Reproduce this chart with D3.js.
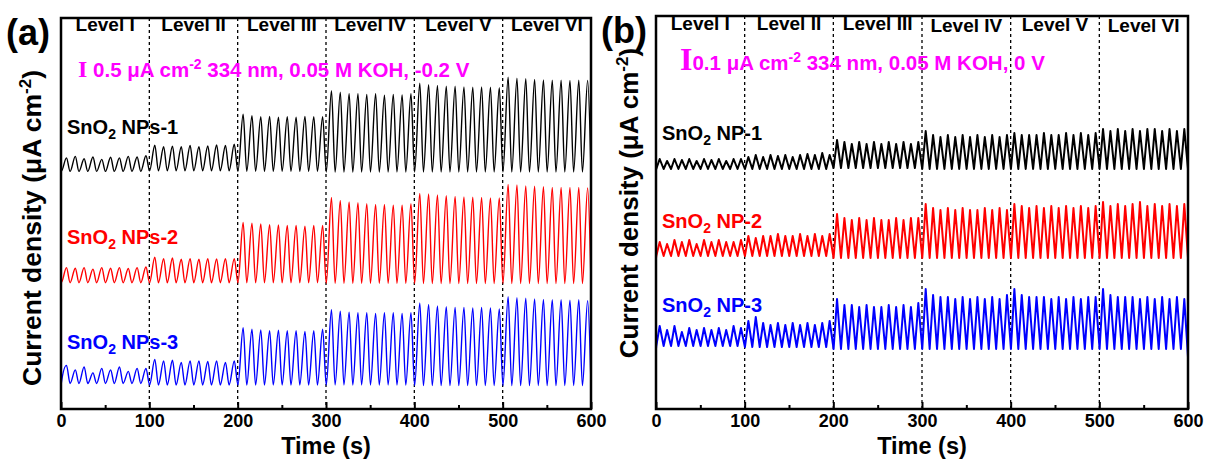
<!DOCTYPE html>
<html>
<head>
<meta charset="utf-8">
<script src="https://cdn.jsdelivr.net/npm/d3@7"></script>
<style>
  body { margin: 0; background: #fff; }
  text { font-family: "Liberation Sans", Arial, sans-serif; font-weight: bold; }
</style>
</head>
<body>
<script>
var width = 1211,
    height = 459;

// shared x data
var timeTicks = [0, 100, 200, 300, 400, 500, 600];
var minorTicks = [50, 150, 250, 350, 450, 550];
var levelEdges = [100, 200, 300, 400, 500];
var levelNames = ["Level I", "Level II", "Level III", "Level IV", "Level V", "Level VI"];

// panel (a): peak photocurrent of each light cycle, per level (µA cm-2 above dark baseline)
var aPeaks1 = [
  [0.45, 0.5, 0.42, 0.48, 0.4, 0.47, 0.45, 0.5, 0.48, 0.52],
  [0.85, 0.8, 0.82, 0.8, 0.84, 0.8, 0.83, 0.86, 0.84, 0.88],
  [1.9, 1.85, 1.82, 1.83, 1.8, 1.82, 1.8, 1.83, 1.82, 1.82],
  [2.7, 2.65, 2.6, 2.6, 2.58, 2.6, 2.55, 2.58, 2.56, 2.6],
  [2.95, 2.9, 2.88, 2.85, 2.85, 2.83, 2.82, 2.83, 2.82, 2.8],
  [3.15, 3.12, 3.1, 3.08, 3.06, 3.05, 3.05, 3.04, 3.05, 3.04]
];
var aPeaks2 = [
  [0.5, 0.48, 0.5, 0.45, 0.5, 0.48, 0.5, 0.47, 0.5, 0.52],
  [0.85, 0.8, 0.82, 0.78, 0.8, 0.78, 0.8, 0.79, 0.8, 0.8],
  [2.0, 1.98, 1.95, 1.93, 1.92, 1.9, 1.9, 1.88, 1.9, 1.9],
  [2.85, 2.75, 2.7, 2.68, 2.65, 2.62, 2.62, 2.6, 2.6, 2.65],
  [3.0, 2.98, 2.95, 2.92, 2.9, 2.88, 2.87, 2.86, 2.85, 2.85],
  [3.3, 3.28, 3.25, 3.24, 3.22, 3.2, 3.2, 3.2, 3.2, 3.18]
];
var aPeaks3 = [
  [0.6, 0.45, 0.55, 0.35, 0.5, 0.45, 0.55, 0.4, 0.5, 0.5],
  [0.85, 0.8, 0.82, 0.75, 0.8, 0.8, 0.78, 0.8, 0.75, 0.8],
  [1.9, 1.85, 1.83, 1.8, 1.82, 1.8, 1.8, 1.78, 1.8, 1.85],
  [2.5, 2.45, 2.42, 2.4, 2.4, 2.38, 2.4, 2.4, 2.38, 2.4],
  [2.75, 2.7, 2.65, 2.62, 2.6, 2.6, 2.58, 2.6, 2.58, 2.55],
  [2.95, 2.92, 2.9, 2.88, 2.86, 2.85, 2.85, 2.84, 2.85, 2.82]
];
// dark current per level, relative to the baseline of each trace
var aTroughs1 = [0, 0.02, 0, -0.02, -0.02, -0.02];
var aTroughs2 = [0, 0, 0, -0.02, -0.03, -0.03];
var aTroughs3 = [0.05, 0, 0, 0, -0.02, -0.02];
var aOffsets = [7.9, 4.2, 0.8];       // vertical stacking of the traces
var aStart = [0, 0, -0.75];           // value at t = 0
var aEnd = [0, 0, 0];                 // value at t = 600
var aNames = [" NPs-1", " NPs-2", " NPs-3"];

// panel (b)
var bPeaks1 = [
  [0.05, 0.04, 0.05, 0.045, 0.05, 0.04, 0.05, 0.045, 0.05, 0.04, 0.05, 0.05],
  [0.06, 0.07, 0.06, 0.07, 0.065, 0.07, 0.06, 0.07, 0.075, 0.07, 0.08, 0.07],
  [0.14, 0.13, 0.12, 0.13, 0.12, 0.13, 0.12, 0.13, 0.12, 0.13, 0.12, 0.13],
  [0.19, 0.17, 0.16, 0.17, 0.16, 0.17, 0.16, 0.17, 0.16, 0.17, 0.16, 0.17],
  [0.18, 0.17, 0.17, 0.17, 0.18, 0.17, 0.17, 0.18, 0.17, 0.18, 0.17, 0.18],
  [0.2, 0.19, 0.2, 0.19, 0.2, 0.19, 0.2, 0.2, 0.19, 0.2, 0.19, 0.2]
];
var bPeaks2 = [
  [0.07, 0.06, 0.08, 0.07, 0.08, 0.06, 0.08, 0.07, 0.08, 0.07, 0.07, 0.08],
  [0.1, 0.09, 0.1, 0.1, 0.11, 0.1, 0.1, 0.11, 0.1, 0.11, 0.1, 0.11],
  [0.22, 0.2, 0.19, 0.2, 0.19, 0.2, 0.19, 0.19, 0.2, 0.19, 0.2, 0.2],
  [0.27, 0.25, 0.24, 0.25, 0.24, 0.25, 0.24, 0.24, 0.25, 0.24, 0.25, 0.24],
  [0.27, 0.26, 0.25, 0.26, 0.25, 0.26, 0.25, 0.26, 0.25, 0.26, 0.25, 0.26],
  [0.28, 0.26, 0.27, 0.26, 0.27, 0.28, 0.26, 0.27, 0.26, 0.27, 0.26, 0.27]
];
var bPeaks3 = [
  [0.1, 0.08, 0.1, 0.07, 0.09, 0.08, 0.09, 0.08, 0.09, 0.08, 0.1, 0.09],
  [0.13, 0.15, 0.12, 0.11, 0.12, 0.11, 0.12, 0.11, 0.12, 0.11, 0.12, 0.13],
  [0.25, 0.22, 0.22, 0.21, 0.22, 0.21, 0.21, 0.22, 0.21, 0.22, 0.21, 0.23],
  [0.3, 0.27, 0.26, 0.26, 0.25, 0.26, 0.25, 0.26, 0.25, 0.26, 0.25, 0.27],
  [0.3, 0.27, 0.26, 0.26, 0.26, 0.25, 0.26, 0.25, 0.26, 0.25, 0.26, 0.26],
  [0.3, 0.27, 0.26, 0.26, 0.26, 0.25, 0.26, 0.25, 0.26, 0.25, 0.26, 0.25]
];
var bTroughs1 = [0, 0, 0.005, 0, 0, 0];
var bTroughs2 = [0.01, 0.01, 0, 0, 0, 0];
var bTroughs3 = [0.015, 0.01, 0, 0, 0, 0];
var bOffsets = [1.2, 0.755, 0.3];
var bStart = [0, 0, 0];
var bEnd = [0, 0, -0.04];
var bNames = [" NP-1", " NP-2", " NP-3"];

var colors = ["#000000", "#ff0000", "#0000ff"];

var svg = d3.select("body").append("svg")
    .attr("width", width)
    .attr("height", height);

// build the chopped-light trace of one sample from its per-cycle peaks
function trace(peaks, troughs, offset, start, end, riseFrac) {
  var pts = [[0, offset + start]];
  peaks.forEach(function(level, i) {
    var period = 100 / level.length;
    level.forEach(function(p, k) {
      var t0 = i * 100 + k * period;
      pts.push([t0 + 0.3, offset + troughs[i]]);
      pts.push([t0 + period * riseFrac, offset + troughs[i] + p]);
    });
  });
  pts.push([600, offset + troughs[5] + end]);
  return pts;
}

function drawPanel(cfg) {
  var x = d3.scaleLinear().domain([0, 600]).range([cfg.left, cfg.right]);
  var y = d3.scaleLinear().domain(cfg.yDomain).range([cfg.bottom, cfg.top]);
  var g = svg.append("g");

  // level separators
  g.selectAll(".sep")
    .data(levelEdges)
    .enter().append("line")
    .attr("x1", function(d) { return x(d); })
    .attr("x2", function(d) { return x(d); })
    .attr("y1", cfg.top)
    .attr("y2", cfg.bottom)
    .attr("stroke", "#000")
    .attr("stroke-width", 1.3)
    .attr("stroke-dasharray", "3,3");

  g.selectAll(".lvl")
    .data(levelNames)
    .enter().append("text")
    .attr("x", function(d, i) { return x(i * 100 + 50); })
    .attr("y", function(d, i) { return cfg.levelY[i]; })
    .attr("text-anchor", "middle")
    .style("font-size", "19px")
    .text(function(d) { return d; });

  var line = d3.line()
    .x(function(d) { return x(d[0]); })
    .y(function(d) { return y(d[1]); })
    .curve(cfg.curve);

  cfg.series.forEach(function(s, i) {
    g.append("path")
      .attr("d", line(trace(s.peaks, s.troughs, cfg.offsets[i], cfg.start[i], cfg.end[i], cfg.rise)))
      .attr("fill", "none")
      .attr("stroke", colors[i])
      .attr("stroke-width", cfg.lineWidth)
      .attr("stroke-linejoin", "round");

    var t = g.append("text")
      .attr("x", cfg.left + 6)
      .attr("y", cfg.labelY[i])
      .attr("fill", colors[i])
      .style("font-size", "20px");
    t.append("tspan").text("SnO");
    t.append("tspan").attr("dy", 5).style("font-size", "14px").text("2");
    t.append("tspan").attr("dy", -5).text(cfg.names[i]);
  });

  // magenta scale-bar note
  var note = g.append("text")
    .attr("x", cfg.noteX)
    .attr("y", cfg.noteY)
    .attr("fill", "#ff00ff")
    .style("font-size", "20.5px");
  note.append("tspan")
    .style("font-family", "'Liberation Serif', 'Times New Roman', serif")
    .style("font-size", cfg.barSize + "px")
    .text("I");
  note.append("tspan").text(cfg.note1);
  note.append("tspan").attr("dy", -8).style("font-size", "14px").text("-2");
  note.append("tspan").attr("dy", 8).text(cfg.note2);

  // axes
  g.append("g")
    .attr("transform", "translate(0," + cfg.bottom + ")")
    .call(d3.axisBottom(x).tickValues(minorTicks).tickSize(-4).tickFormat(""))
    .call(function(a) { a.select(".domain").remove(); a.selectAll("line").attr("stroke-width", 2); });

  var ax = g.append("g")
    .attr("transform", "translate(0," + cfg.bottom + ")")
    .call(d3.axisBottom(x).tickValues(timeTicks).tickSize(-7).tickPadding(5));
  ax.select(".domain").remove();
  ax.selectAll("line").attr("stroke-width", 2);
  ax.selectAll("text")
    .attr("fill", "#000")
    .style("font-size", "18px")
    .style("font-family", "'Liberation Sans', Arial, sans-serif")
    .style("font-weight", "bold");

  g.append("rect")
    .attr("x", cfg.left)
    .attr("y", cfg.top)
    .attr("width", cfg.right - cfg.left)
    .attr("height", cfg.bottom - cfg.top)
    .attr("fill", "none")
    .attr("stroke", "#000")
    .attr("stroke-width", 2.5);

  g.append("text")
    .attr("x", (cfg.left + cfg.right) / 2)
    .attr("y", cfg.bottom + 44.5)
    .attr("text-anchor", "middle")
    .style("font-size", "23.5px")
    .text("Time (s)");

  var yt = g.append("text")
    .attr("transform", "translate(" + cfg.yTitleX + "," + cfg.yTitleY + ") rotate(-90)")
    .attr("text-anchor", "middle")
    .style("font-size", cfg.yTitleSize + "px");
  yt.append("tspan").text("Current density (\u03bcA cm");
  yt.append("tspan").attr("dy", -10).style("font-size", "17px").text("-2");
  yt.append("tspan").attr("dy", 10).text(")");

  g.append("text")
    .attr("x", cfg.tagX)
    .attr("y", cfg.tagY)
    .style("font-size", "36px")
    .text(cfg.tag);
}

drawPanel({
  left: 61, right: 591, top: 18, bottom: 409,
  yDomain: [0, 13],
  series: [
    {peaks: aPeaks1, troughs: aTroughs1},
    {peaks: aPeaks2, troughs: aTroughs2},
    {peaks: aPeaks3, troughs: aTroughs3}
  ],
  offsets: aOffsets, start: aStart, end: aEnd, names: aNames,
  rise: 0.62, curve: d3.curveMonotoneX, lineWidth: 1.4,
  levelY: [31, 31, 31, 31, 31, 31],
  labelY: [134, 244, 349],
  noteX: 78, noteY: 77, barSize: 24,
  note1: " 0.5 \u03bcA cm", note2: " 334 nm, 0.05 M KOH, -0.2 V",
  yTitleX: 41, yTitleY: 228, yTitleSize: 26.5,
  tag: "(a)", tagX: 6, tagY: 45
});

drawPanel({
  left: 656, right: 1188, top: 16, bottom: 409,
  yDomain: [0, 1.965],
  series: [
    {peaks: bPeaks1, troughs: bTroughs1},
    {peaks: bPeaks2, troughs: bTroughs2},
    {peaks: bPeaks3, troughs: bTroughs3}
  ],
  offsets: bOffsets, start: bStart, end: bEnd, names: bNames,
  rise: 0.5, curve: d3.curveLinear, lineWidth: 2,
  levelY: [30, 30, 30, 32, 31, 32],
  labelY: [140, 228, 312],
  noteX: 680, noteY: 70, barSize: 32,
  note1: "0.1 \u03bcA cm", note2: " 334 nm, 0.05 M KOH, 0 V",
  yTitleX: 638, yTitleY: 203, yTitleSize: 26,
  tag: "(b)", tagX: 601, tagY: 43
});
</script>
</body>
</html>
